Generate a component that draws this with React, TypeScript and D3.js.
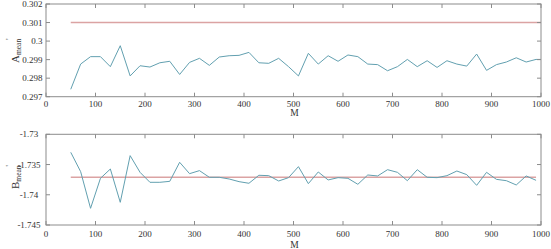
import React from "react";
import * as d3 from "d3";

const mA = [50,70,90,110,130,150,170,190,210,230,250,270,290,310,330,350,370,390,410,430,450,470,490,510,530,550,570,590,610,630,650,670,690,710,730,750,770,790,810,830,850,870,890,910,930,950,970,990,1000];
const aValues = [0.29740,0.29876,0.29916,0.29916,0.29862,0.29975,0.29812,0.29867,0.29860,0.29883,0.29891,0.29820,0.29885,0.29907,0.29869,0.29914,0.29921,0.29923,0.29939,0.29883,0.29880,0.29907,0.29862,0.29812,0.29934,0.29876,0.29921,0.29891,0.29925,0.29916,0.29876,0.29873,0.29840,0.29862,0.29901,0.29862,0.29894,0.29858,0.29894,0.29876,0.29865,0.29930,0.29842,0.29873,0.29887,0.29910,0.29887,0.29901,0.29901];
const aTrue = 0.301;

const mB = [50,70,90,110,130,150,170,190,210,230,250,270,290,310,330,350,370,390,410,430,450,470,490,510,530,550,570,590,610,630,650,670,690,710,730,750,770,790,810,830,850,870,890,910,930,950,970,990];
const bValues = [-1.73298,-1.73618,-1.74224,-1.73728,-1.73574,-1.74125,-1.73353,-1.73629,-1.73794,-1.73794,-1.73778,-1.73463,-1.73651,-1.73601,-1.73711,-1.73711,-1.73739,-1.73783,-1.73810,-1.73678,-1.73684,-1.73772,-1.73717,-1.73535,-1.73816,-1.73623,-1.73755,-1.73717,-1.73728,-1.73827,-1.73673,-1.73689,-1.73585,-1.73629,-1.73767,-1.73585,-1.73711,-1.73717,-1.73684,-1.73607,-1.73667,-1.73844,-1.73629,-1.73745,-1.73767,-1.73838,-1.73689,-1.73761];
const bTrue = -1.7371;

const xTicks = [0,100,200,300,400,500,600,700,800,900,1000];
const aTicks = [0.297,0.298,0.299,0.3,0.301,0.302];
const aTickLabels = ["0.297","0.298","0.299","0.3","0.301","0.302"];
const bTicks = [-1.745,-1.74,-1.735,-1.73];
const bTickLabels = ["-1.745","-1.74","-1.735","-1.73"];

const FONT = "'Liberation Serif', 'DejaVu Serif', serif";
const BORDER = "#8c8c8c";
const BLUE = "#62a0b0";
const RED = "#dba3a3";

type PanelProps = {
  top: number; bottom: number; left: number; right: number;
  xs: number[]; ys: number[]; truth: number; truthEnd: number;
  yDomain: [number, number]; yTicks: number[]; yTickLabels: string[];
  yLabelAnchor: "end" | "middle"; yLabelX: number;
  xLabelY: number; mLabelY: number;
  letter: string; labelStart: number;
};

function Panel(p: PanelProps) {
  const x = d3.scaleLinear().domain([0, 1000]).range([p.left, p.right]);
  const y = d3.scaleLinear().domain(p.yDomain).range([p.bottom, p.top]);
  const line = d3.line<number>().x((_, i) => x(p.xs[i])).y((d) => y(d));
  const tl = 4;
  return (
    <g>
      <path d={`M${x(p.xs[0])},${y(p.truth)}L${x(p.truthEnd)},${y(p.truth)}`} stroke={RED} strokeWidth={1.6} fill="none" />
      <path d={line(p.ys) || ""} stroke={BLUE} strokeWidth={1} fill="none" />
      <rect x={p.left} y={p.top} width={p.right - p.left} height={p.bottom - p.top} fill="none" stroke={BORDER} strokeWidth={1} />
      {xTicks.map((t) => (
        <g key={"x" + t}>
          <line x1={x(t)} x2={x(t)} y1={p.bottom} y2={p.bottom - tl} stroke={BORDER} />
          <line x1={x(t)} x2={x(t)} y1={p.top} y2={p.top + tl} stroke={BORDER} />
          <text x={x(t)} y={p.xLabelY} textAnchor="middle" fontSize={9} fontFamily={FONT} fill="#333">{t}</text>
        </g>
      ))}
      {p.yTicks.map((t, i) => (
        <g key={"y" + t}>
          <line x1={p.left} x2={p.left + tl} y1={y(t)} y2={y(t)} stroke={BORDER} />
          <line x1={p.right} x2={p.right - tl} y1={y(t)} y2={y(t)} stroke={BORDER} />
          <text x={p.yLabelX} y={y(t) + 3} textAnchor={p.yLabelAnchor} fontSize={9} fontFamily={FONT} fill="#333">{p.yTickLabels[i]}</text>
        </g>
      ))}
      <text x={(p.left + p.right) / 2 + 1} y={p.mLabelY} textAnchor="middle" fontSize={9.5} fontFamily={FONT} fill="#333">M</text>
      <g transform={`translate(19,${p.labelStart}) rotate(-90)`}>
        <text x={0} y={0} fontSize={11} fontFamily={FONT} fill="#333">
          {p.letter}
          <tspan fontSize={7.5} dy={2}>mean</tspan>
          <tspan fontSize={8} dy={-9} dx={-1}>'</tspan>
        </text>
      </g>
    </g>
  );
}

export default function App() {
  return (
    <svg width={551} height={249} style={{ position: "absolute", left: 0, top: 0, background: "#fff" }}>
      <rect x={0} y={0} width={551} height={249} fill="#fff" />
      <Panel top={4} bottom={96.7} left={46} right={541} xs={mA} ys={aValues} truth={aTrue} truthEnd={1000}
        yDomain={[0.297, 0.302]} yTicks={aTicks} yTickLabels={aTickLabels} yLabelAnchor="end" yLabelX={42.5}
        xLabelY={107} mLabelY={116} letter="A" labelStart={63} />
      <Panel top={134.3} bottom={225} left={46} right={541} xs={mB} ys={bValues} truth={bTrue} truthEnd={990}
        yDomain={[-1.745, -1.73]} yTicks={bTicks} yTickLabels={bTickLabels} yLabelAnchor="middle" yLabelX={29}
        xLabelY={237} mLabelY={248} letter="B" labelStart={189} />
    </svg>
  );
}
